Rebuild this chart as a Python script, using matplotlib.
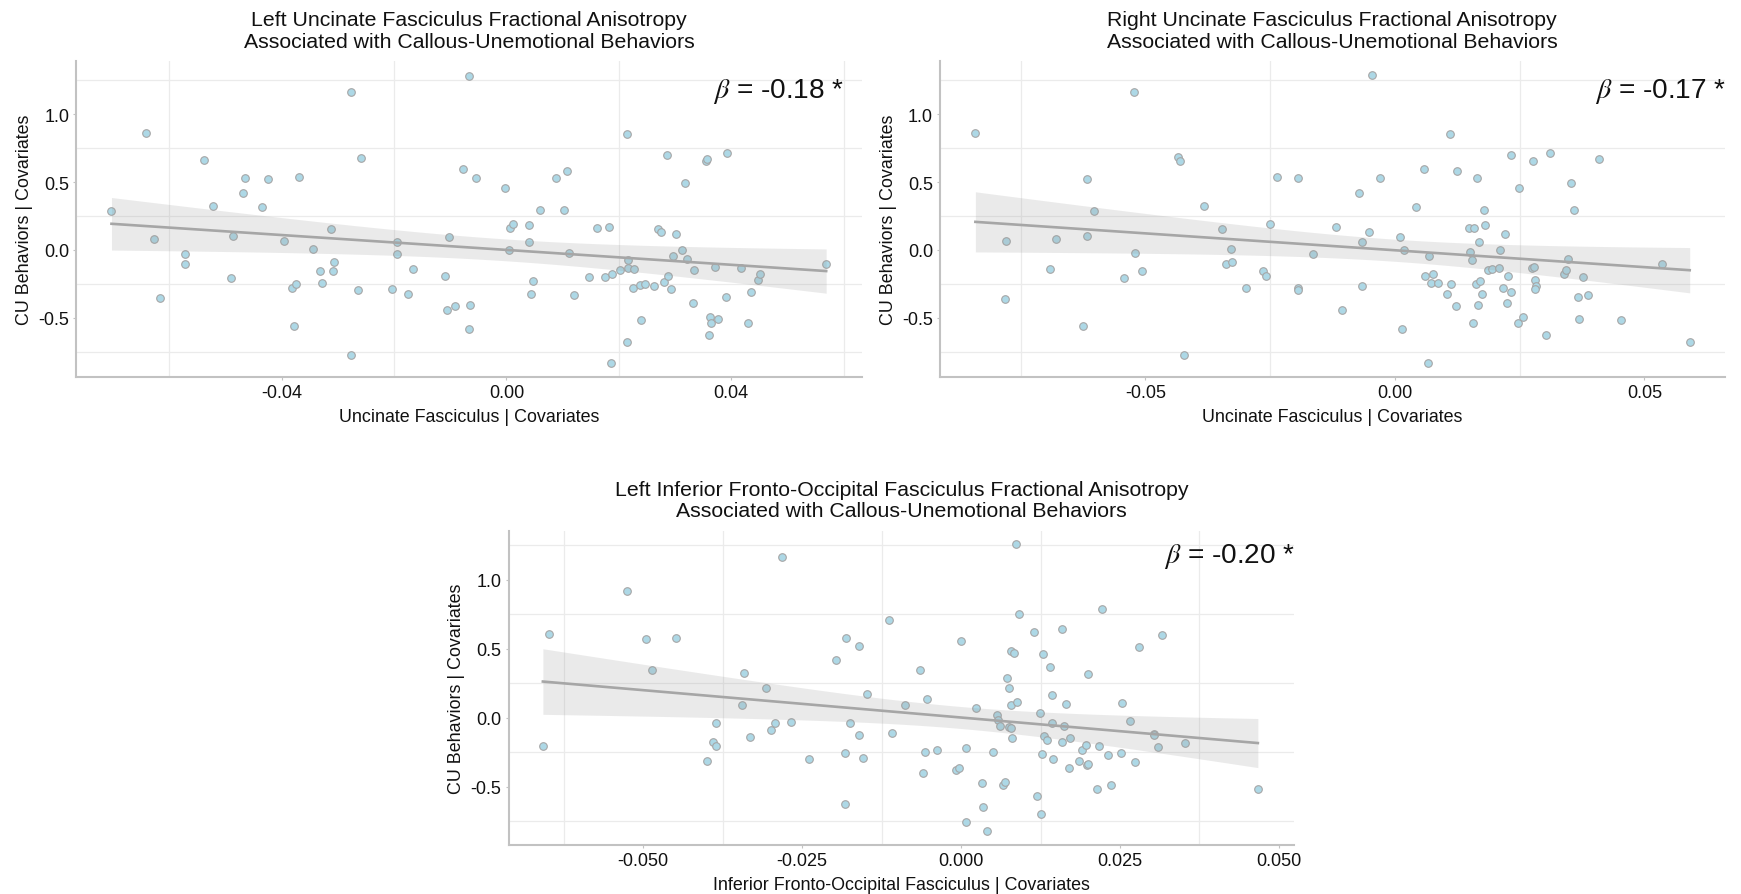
import numpy as np
import matplotlib
matplotlib.use("Agg")
import matplotlib.pyplot as plt
from matplotlib.ticker import FixedLocator

plt.rcParams['font.family'] = ['Liberation Sans', 'DejaVu Sans']
plt.rcParams['mathtext.fontset'] = 'stix'

# ---------------- data ----------------
titles = [
    "Left Uncinate Fasciculus Fractional Anisotropy\nAssociated with Callous-Unemotional Behaviors",
    "Right Uncinate Fasciculus Fractional Anisotropy\nAssociated with Callous-Unemotional Behaviors",
    "Left Inferior Fronto-Occipital Fasciculus Fractional Anisotropy\nAssociated with Callous-Unemotional Behaviors",
]
xlabels = ["Uncinate Fasciculus | Covariates",
           "Uncinate Fasciculus | Covariates",
           "Inferior Fronto-Occipital Fasciculus | Covariates"]
ylabel = "CU Behaviors | Covariates"
betas = ["-0.18", "-0.17", "-0.20"]

p1_x = [-0.0703, -0.0642, -0.0628, -0.0616, -0.0572, -0.0573, -0.0538, -0.0522, -0.0491, -0.0487,
        -0.0469, -0.0466, -0.0435, -0.0424, -0.0396, -0.0381, -0.0374, -0.0379, -0.0369, -0.0344,
        -0.0331, -0.0328, -0.0312, -0.0309, -0.0307, -0.0277, -0.0276, -0.0265, -0.0259, -0.0203,
        -0.0194, -0.0194, -0.0175, -0.0167, -0.0109, -0.0105, -0.0103, -0.0091, -0.0077, -0.0066,
        -0.0065, -0.0066, -0.0055, -0.0003, 0.0005, 0.0007, 0.0011, 0.0040, 0.0040, 0.0044,
        0.0048, 0.0059, 0.0089, 0.0103, 0.0107, 0.0111, 0.0121, 0.0146, 0.0161, 0.0175,
        0.0183, 0.0187, 0.0186, 0.0202, 0.0214, 0.0216, 0.0217, 0.0214, 0.0226, 0.0227,
        0.0239, 0.0237, 0.0246, 0.0263, 0.0270, 0.0275, 0.0280, 0.0286, 0.0288, 0.0293,
        0.0296, 0.0302, 0.0313, 0.0317, 0.0322, 0.0332, 0.0333, 0.0355, 0.0356, 0.0360,
        0.0363, 0.0364, 0.0371, 0.0377, 0.0390, 0.0392, 0.0418, 0.0430, 0.0436, 0.0447,
        0.0452, 0.0569]
p1_y = [0.290, 0.862, 0.081, -0.356, -0.032, -0.103, 0.661, 0.327, -0.204, 0.101,
        0.418, 0.528, 0.319, 0.526, 0.066, -0.283, -0.248, -0.563, 0.538, 0.005,
        -0.155, -0.243, 0.152, -0.155, -0.086, 1.167, -0.774, -0.295, 0.681, -0.285,
        0.057, -0.027, -0.322, -0.140, -0.194, -0.445, 0.093, -0.410, 0.597, 1.285,
        -0.408, -0.580, 0.528, 0.455, -0.002, 0.162, 0.194, 0.182, 0.057, -0.327,
        -0.231, 0.297, 0.533, 0.292, 0.580, -0.020, -0.334, -0.197, 0.162, -0.201,
        0.167, -0.177, -0.830, -0.150, 0.853, -0.133, -0.076, -0.681, -0.283, -0.143,
        -0.516, -0.258, -0.248, -0.265, 0.152, 0.135, -0.238, 0.698, -0.192, -0.287,
        -0.047, 0.115, -0.002, 0.491, -0.064, -0.391, -0.145, 0.654, 0.671, -0.624,
        -0.494, -0.536, -0.123, -0.509, -0.346, 0.713, -0.135, -0.536, -0.312, -0.221,
        -0.174, -0.101]

p2_x = [-0.0841, -0.0780, -0.0781, -0.0692, -0.0680, -0.0625, -0.0617, -0.0617, -0.0603, -0.0543,
        -0.0523, -0.0522, -0.0507, -0.0435, -0.0430, -0.0423, -0.0383, -0.0346, -0.0338, -0.0329,
        -0.0327, -0.0298, -0.0264, -0.0259, -0.0251, -0.0236, -0.0195, -0.0194, -0.0194, -0.0164,
        -0.0119, -0.0106, -0.0071, -0.0066, -0.0065, -0.0052, -0.0046, -0.0030, 0.0011, 0.0014,
        0.0019, 0.0043, 0.0058, 0.0060, 0.0067, 0.0068, 0.0073, 0.0077, 0.0086, 0.0105,
        0.0111, 0.0112, 0.0123, 0.0125, 0.0148, 0.0151, 0.0154, 0.0157, 0.0159, 0.0162,
        0.0164, 0.0167, 0.0168, 0.0171, 0.0174, 0.0179, 0.0180, 0.0186, 0.0194, 0.0209,
        0.0211, 0.0216, 0.0220, 0.0224, 0.0226, 0.0232, 0.0233, 0.0247, 0.0249, 0.0257,
        0.0275, 0.0277, 0.0279, 0.0281, 0.0283, 0.0281, 0.0303, 0.0311, 0.0338, 0.0343,
        0.0347, 0.0354, 0.0360, 0.0368, 0.0370, 0.0377, 0.0387, 0.0409, 0.0454, 0.0535,
        0.0591]
p2_y = [0.862, 0.066, -0.359, -0.140, 0.081, -0.563, 0.526, 0.101, 0.290, -0.204,
        1.167, -0.025, -0.152, 0.683, 0.658, -0.774, 0.327, 0.152, -0.103, 0.005,
        -0.086, -0.283, -0.155, -0.194, 0.192, 0.538, 0.528, -0.283, -0.295, -0.032,
        0.167, -0.442, 0.418, -0.268, 0.057, 0.133, 1.287, 0.528, 0.093, -0.580,
        -0.002, 0.319, 0.597, -0.194, -0.830, -0.047, -0.243, -0.177, -0.241, -0.327,
        0.853, -0.248, -0.410, 0.582, 0.162, -0.017, -0.076, -0.536, 0.162, -0.251,
        0.533, -0.408, 0.057, -0.231, -0.322, 0.292, 0.182, -0.150, -0.140, -0.133,
        -0.002, -0.283, 0.115, -0.393, -0.192, -0.312, 0.698, -0.536, 0.455, -0.494,
        -0.133, 0.654, -0.123, -0.221, -0.263, -0.287, -0.624, 0.713, -0.174, -0.145,
        -0.064, 0.491, 0.297, -0.346, -0.509, -0.201, -0.334, 0.671, -0.516, -0.101,
        -0.681]

p3_x = [-0.0658, -0.0649, -0.0526, -0.0496, -0.0487, -0.0449, -0.0400, -0.0390, -0.0386, -0.0386,
        -0.0345, -0.0341, -0.0332, -0.0307, -0.0299, -0.0292, -0.0282, -0.0267, -0.0240, -0.0197,
        -0.0182, -0.0183, -0.0181, -0.0174, -0.0160, -0.0160, -0.0155, -0.0148, -0.0113, -0.0109,
        -0.0088, -0.0065, -0.0060, -0.0056, -0.0054, -0.0038, -0.0008, -0.0003, 0.0000, 0.0007,
        0.0008, 0.0024, 0.0033, 0.0035, 0.0041, 0.0051, 0.0057, 0.0058, 0.0062, 0.0066,
        0.0069, 0.0072, 0.0075, 0.0076, 0.0078, 0.0078, 0.0079, 0.0080, 0.0084, 0.0087,
        0.0088, 0.0091, 0.0115, 0.0119, 0.0124, 0.0126, 0.0128, 0.0129, 0.0131, 0.0135,
        0.0140, 0.0143, 0.0143, 0.0145, 0.0159, 0.0159, 0.0162, 0.0165, 0.0170, 0.0172,
        0.0185, 0.0190, 0.0197, 0.0198, 0.0200, 0.0200, 0.0214, 0.0217, 0.0221, 0.0231,
        0.0236, 0.0251, 0.0254, 0.0266, 0.0274, 0.0280, 0.0303, 0.0304, 0.0310, 0.0316,
        0.0353, 0.0467]
p3_y = [-0.208, 0.604, 0.920, 0.568, 0.348, 0.577, -0.312, -0.179, -0.203, -0.039,
        0.094, 0.326, -0.138, 0.217, -0.089, -0.039, 1.164, -0.029, -0.297, 0.418,
        -0.254, -0.628, 0.575, -0.039, -0.128, 0.519, -0.292, 0.171, 0.708, -0.109,
        0.089, 0.348, -0.401, -0.251, 0.138, -0.237, -0.377, -0.367, 0.556, -0.220,
        -0.754, 0.068, -0.476, -0.647, -0.824, -0.246, 0.019, -0.019, -0.063, -0.486,
        -0.469, 0.290, -0.070, 0.213, 0.092, 0.486, -0.075, -0.147, 0.471, 1.256,
        0.111, 0.754, 0.623, -0.565, 0.031, -0.696, -0.266, 0.459, -0.130, -0.159,
        0.370, 0.162, -0.041, -0.297, 0.645, -0.174, -0.063, 0.101, -0.365, -0.147,
        -0.316, -0.234, -0.196, -0.341, -0.336, 0.314, -0.519, -0.208, 0.790, -0.271,
        -0.490, -0.258, 0.109, -0.022, -0.319, 0.512, -0.118, -0.123, -0.215, 0.601,
        -0.181, -0.517]

xticks = [[-0.04, 0.00, 0.04], [-0.05, 0.00, 0.05], [-0.050, -0.025, 0.000, 0.025, 0.050]]
xticklabels = [["-0.04", "0.00", "0.04"], ["-0.05", "0.00", "0.05"],
               ["-0.050", "-0.025", "0.000", "0.025", "0.050"]]
xminor = [[-0.06, -0.02, 0.02, 0.06], [-0.075, -0.025, 0.025],
          [-0.0625, -0.0375, -0.0125, 0.0125, 0.0375]]
yticks = [-0.5, 0.0, 0.5, 1.0]
yticklabels = ["-0.5", "0.0", "0.5", "1.0"]
yminor = [-0.75, -0.25, 0.25, 0.75, 1.25]

# ---------------- layout ----------------
fig = plt.figure(figsize=(17.41, 8.95), dpi=100)
rects = [
    [0.0437, 0.5773, 0.4515, 0.3531],
    [0.5399, 0.5773, 0.4507, 0.3531],
    [0.2921, 0.0547, 0.4512, 0.3512],
]
xlims = [(-0.0766, 0.0633), (-0.0912, 0.0661), (-0.0712, 0.0524)]
ylims = [(-0.939, 1.391), (-0.939, 1.391), (-0.923, 1.355)]
beta_pos = [(0.977, 0.886), (1.002, 0.886), (1.001, 0.900)]

datasets = [(p1_x, p1_y), (p2_x, p2_y), (p3_x, p3_y)]
axis_col = '#c2c2c2'
txt_col = '#111111'

for i, (xs, ys) in enumerate(datasets):
    ax = fig.add_axes(rects[i])
    x = np.array(xs)
    y = np.array(ys)

    ax.scatter(x, y, s=30, c='#add8e6', edgecolors='#a6a6a6', linewidths=0.8, zorder=2)

    # OLS fit with analytic 95% CI
    n = len(x)
    b1, b0 = np.polyfit(x, y, 1)
    resid = y - (b0 + b1 * x)
    s = np.sqrt(np.sum(resid ** 2) / (n - 2))
    xm = x.mean()
    sxx = np.sum((x - xm) ** 2)
    xg = np.linspace(x.min(), x.max(), 200)
    yg = b0 + b1 * xg
    se = s * np.sqrt(1.0 / n + (xg - xm) ** 2 / sxx)
    tval = 1.985
    ax.fill_between(xg, yg - tval * se, yg + tval * se, color='#999999', alpha=0.2,
                    linewidth=0, zorder=3)
    ax.plot(xg, yg, color='#a6a6a6', linewidth=1.9, zorder=4)

    ax.set_xlim(*xlims[i])
    ax.set_ylim(*ylims[i])
    ax.set_xticks(xticks[i])
    ax.set_xticklabels(xticklabels[i])
    ax.set_yticks(yticks)
    ax.set_yticklabels(yticklabels)
    ax.xaxis.set_minor_locator(FixedLocator(xminor[i]))
    ax.yaxis.set_minor_locator(FixedLocator(yminor))
    ax.grid(which='minor', color='#ebebeb', linewidth=0.9, zorder=0)
    ax.grid(which='major', visible=False)
    ax.set_axisbelow(True)
    ax.tick_params(which='minor', length=0)
    ax.tick_params(which='major', length=2.5, width=0.8, color=axis_col,
                   labelsize=13, labelcolor=txt_col, pad=2.5)

    for side in ['top', 'right']:
        ax.spines[side].set_visible(False)
    for side in ['left', 'bottom']:
        ax.spines[side].set_color(axis_col)
        ax.spines[side].set_linewidth(1.5)

    ax.set_title(titles[i], fontsize=15.3, pad=10.5, linespacing=1.15, color=txt_col)
    ax.set_xlabel(xlabels[i], fontsize=12.9, labelpad=5, color=txt_col)
    ax.set_ylabel(ylabel, fontsize=12.9, labelpad=4, color=txt_col)

    bx, by = beta_pos[i]
    ax.text(bx, by, r'$\beta$' + ' = ' + betas[i] + ' *', transform=ax.transAxes,
            ha='right', va='baseline', fontsize=20.2, color=txt_col, clip_on=False)

fig.savefig('out.png', dpi=100, facecolor='white')
